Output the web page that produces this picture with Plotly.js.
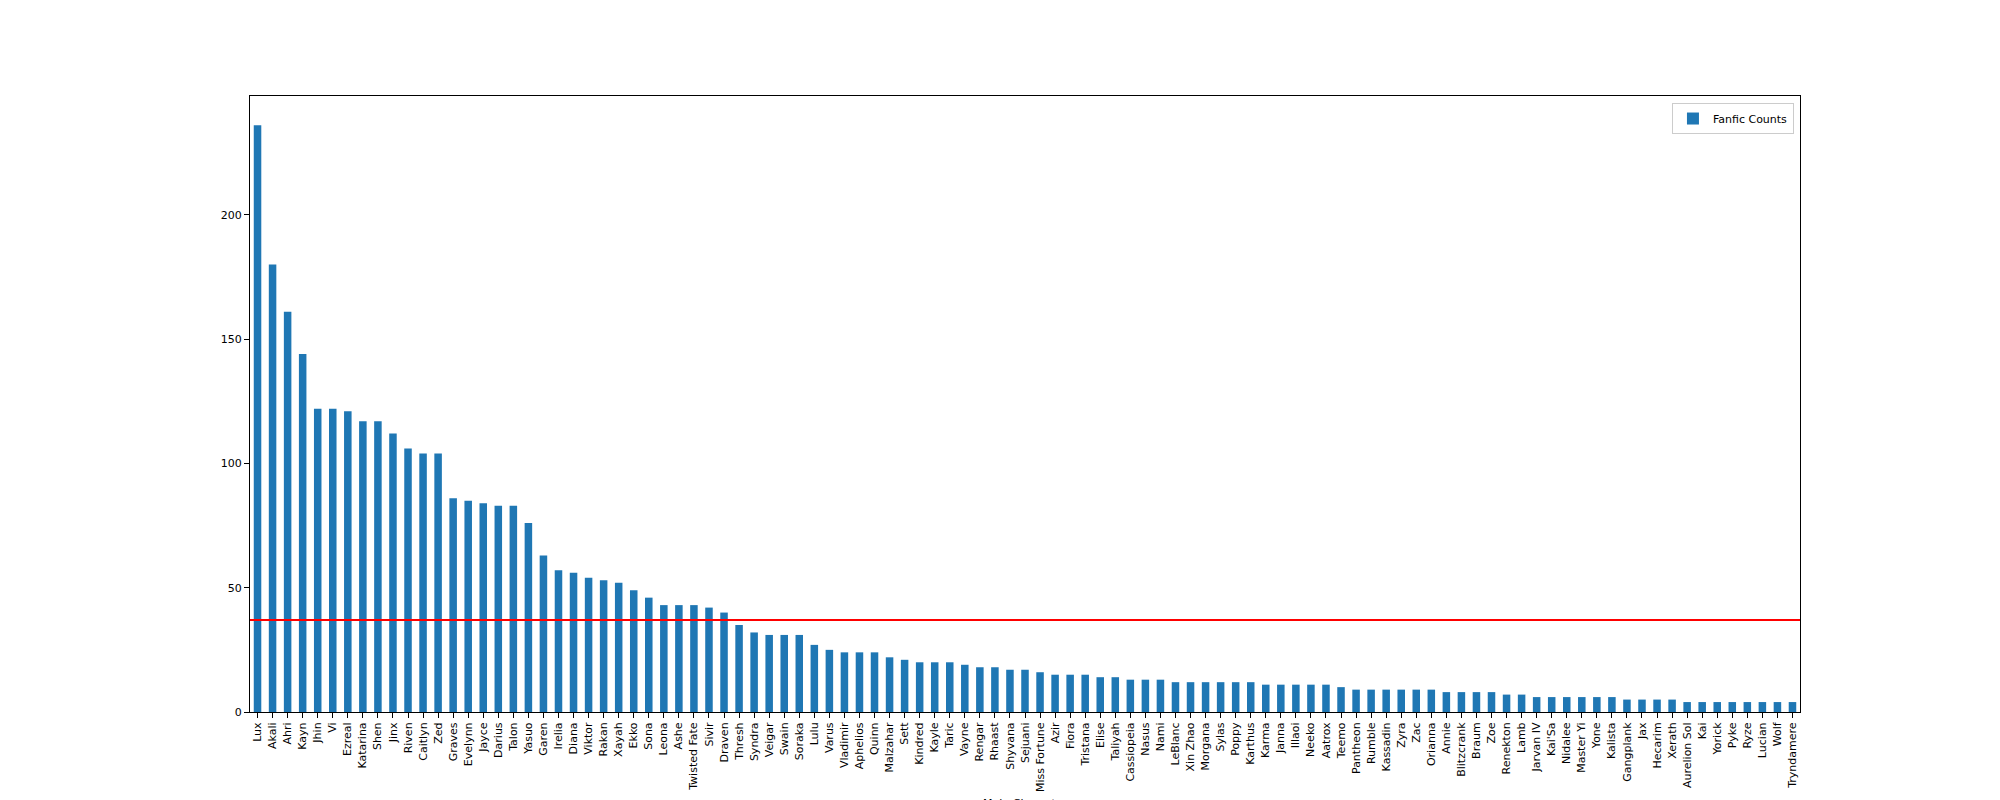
<!DOCTYPE html>
<html>
<head>
<meta charset="utf-8">
<script src="https://cdn.plot.ly/plotly-3.0.1.min.js"></script>
<style>
  html, body { margin: 0; padding: 0; background: #ffffff; }
  #chart { width: 2000px; height: 800px; }
</style>
</head>
<body>
<div id="chart"></div>
<script>
const characters = [
  "Lux", "Akali", "Ahri", "Kayn", "Jhin", "Vi", "Ezreal", "Katarina", "Shen", "Jinx",
  "Riven", "Caitlyn", "Zed", "Graves", "Evelynn", "Jayce", "Darius", "Talon", "Yasuo", "Garen",
  "Irelia", "Diana", "Viktor", "Rakan", "Xayah", "Ekko", "Sona", "Leona", "Ashe", "Twisted Fate",
  "Sivir", "Draven", "Thresh", "Syndra", "Veigar", "Swain", "Soraka", "Lulu", "Varus", "Vladimir",
  "Aphelios", "Quinn", "Malzahar", "Sett", "Kindred", "Kayle", "Taric", "Vayne", "Rengar", "Rhaast",
  "Shyvana", "Sejuani", "Miss Fortune", "Azir", "Fiora", "Tristana", "Elise", "Taliyah", "Cassiopeia", "Nasus",
  "Nami", "LeBlanc", "Xin Zhao", "Morgana", "Sylas", "Poppy", "Karthus", "Karma", "Janna", "Illaoi",
  "Neeko", "Aatrox", "Teemo", "Pantheon", "Rumble", "Kassadin", "Zyra", "Zac", "Orianna", "Annie",
  "Blitzcrank", "Braum", "Zoe", "Renekton", "Lamb", "Jarvan IV", "Kai'Sa", "Nidalee", "Master Yi", "Yone",
  "Kalista", "Gangplank", "Jax", "Hecarim", "Xerath", "Aurelion Sol", "Kai", "Yorick", "Pyke", "Ryze",
  "Lucian", "Wolf", "Tryndamere"
];

const fanficCounts = [
  236, 180, 161, 144, 122, 122, 121, 117, 117, 112,
  106, 104, 104, 86, 85, 84, 83, 83, 76, 63,
  57, 56, 54, 53, 52, 49, 46, 43, 43, 43,
  42, 40, 35, 32, 31, 31, 31, 27, 25, 24,
  24, 24, 22, 21, 20, 20, 20, 19, 18, 18,
  17, 17, 16, 15, 15, 15, 14, 14, 13, 13,
  13, 12, 12, 12, 12, 12, 12, 11, 11, 11,
  11, 11, 10, 9, 9, 9, 9, 9, 9, 8,
  8, 8, 8, 7, 7, 6, 6, 6, 6, 6,
  6, 5, 5, 5, 5, 4, 4, 4, 4, 4,
  4, 4, 4
];

const yTickValues = [0, 50, 100, 150, 200];
const seriesName = "Fanfic Counts";
const xAxisLabel = "Main Character";

const meanCount = fanficCounts.reduce((a, b) => a + b, 0) / fanficCounts.length;
const yMax = Math.max(...fanficCounts) * 1.05;

const font = "DejaVu Sans, Liberation Sans, sans-serif";

const trace = {
  type: "bar",
  x: characters,
  y: fanficCounts,
  name: seriesName,
  marker: { color: "#1f77b4", line: { width: 0 } },
  showlegend: true,
  hoverinfo: "x+y"
};

const layout = {
  width: 2000,
  height: 800,
  margin: { l: 250, r: 200, t: 96, b: 88, pad: 0 },
  paper_bgcolor: "#ffffff",
  plot_bgcolor: "#ffffff",
  font: { family: font, size: 11, color: "#000000" },
  bargap: 0.5,
  showlegend: true,
  legend: {
    x: 0.9961, y: 0.9886, xanchor: "right", yanchor: "top",
    bgcolor: "rgba(255,255,255,0.8)",
    bordercolor: "#cccccc", borderwidth: 1,
    font: { family: font, size: 11, color: "#000000" },
    itemwidth: 30
  },
  xaxis: {
    type: "category",
    range: [-0.5, characters.length - 0.5],
    tickangle: -90,
    ticks: "outside", ticklen: 5, tickwidth: 1, tickcolor: "#000000",
    showline: true, linecolor: "#000000", linewidth: 1, mirror: true,
    showgrid: false, zeroline: false,
    automargin: false,
    tickfont: { family: font, size: 11, color: "#000000" }
  },
  yaxis: {
    range: [0, yMax],
    tickmode: "array",
    tickvals: yTickValues,
    ticktext: yTickValues.map(String),
    ticks: "outside", ticklen: 5, tickwidth: 1, tickcolor: "#000000",
    showline: true, linecolor: "#000000", linewidth: 1, mirror: true,
    showgrid: false, zeroline: false,
    automargin: false,
    tickfont: { family: font, size: 11, color: "#000000" }
  },
  annotations: [{
    text: xAxisLabel,
    xref: "paper", x: 0.5, xanchor: "center",
    yref: "paper", y: -0.134, yanchor: "top",
    showarrow: false,
    font: { family: font, size: 11, color: "#000000" }
  }],
  shapes: [{
    type: "line",
    xref: "paper", x0: 0, x1: 1,
    yref: "y", y0: meanCount, y1: meanCount,
    line: { color: "#ff0000", width: 2 },
    layer: "above"
  }]
};

Plotly.newPlot("chart", [trace], layout, { staticPlot: true, displayModeBar: false });
</script>
</body>
</html>
